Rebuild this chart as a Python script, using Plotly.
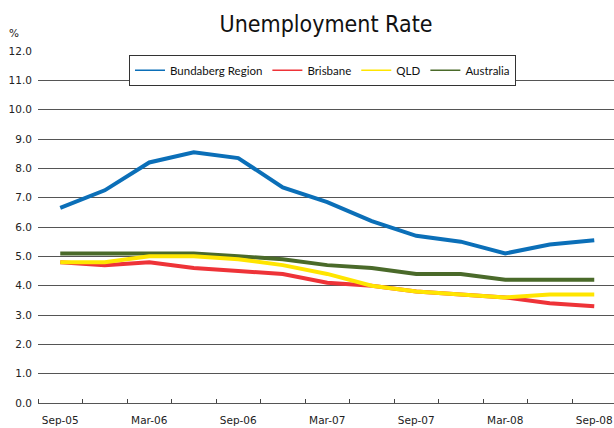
import plotly.graph_objects as go

quarters = ["Sep-05", "Dec-05", "Mar-06", "Jun-06", "Sep-06", "Dec-06", "Mar-07",
            "Jun-07", "Sep-07", "Dec-07", "Mar-08", "Jun-08", "Sep-08"]

bundaberg = [6.65, 7.25, 8.2, 8.55, 8.35, 7.35, 6.85, 6.2, 5.7, 5.5, 5.1, 5.4, 5.55]
brisbane = [4.8, 4.7, 4.8, 4.6, 4.5, 4.4, 4.1, 4.0, 3.8, 3.7, 3.6, 3.4, 3.3]
qld = [4.8, 4.8, 5.0, 5.0, 4.9, 4.7, 4.4, 4.0, 3.8, 3.7, 3.6, 3.7, 3.7]
australia = [5.1, 5.1, 5.1, 5.1, 5.0, 4.9, 4.7, 4.6, 4.4, 4.4, 4.2, 4.2, 4.2]

series = [
    ("Bundaberg Region", bundaberg, "#0B6FB8"),
    ("Brisbane", brisbane, "#EE3338"),
    ("QLD", qld, "#FFE500"),
    ("Australia", australia, "#4A6A2A"),
]

y_ticks = [i for i in range(0, 13)]
x_idx = list(range(len(quarters)))

TITLEFONT = "DejaVu Sans Condensed, Liberation Sans Narrow, sans-serif"
LEGENDFONT = "Lato, Roboto, sans-serif"
TICKFONT = dict(family="DejaVu Sans, Verdana, sans-serif", size=10.5, color="#222222")

fig = go.Figure()

# Plot order: drawn so the Bundaberg line sits on top
for name, vals, color in [series[3], series[1], series[2], series[0]]:
    fig.add_trace(go.Scatter(
        x=x_idx, y=vals, mode="lines", name=name,
        line=dict(color=color, width=4),
        showlegend=False, hoverinfo="skip",
    ))

# Thin legend keys
for name, vals, color in series:
    fig.add_trace(go.Scatter(
        x=[None], y=[None], mode="lines", name=name,
        line=dict(color=color, width=1.6), showlegend=True,
    ))

fig.update_layout(
    width=614, height=428,
    margin=dict(l=38, r=0, t=51, b=25),
    paper_bgcolor="white", plot_bgcolor="white",
    title=dict(text="Unemployment Rate", x=0.5, xref="paper", xanchor="center",
               y=1 - 24 / 428, yanchor="middle",
               font=dict(family=TITLEFONT, size=23, color="#111111")),
    showlegend=True,
    legend=dict(
        orientation="h", x=(129 - 38) / 576, xanchor="left",
        y=(402.7 - 55) / 351.4, yanchor="top",
        bgcolor="white", bordercolor="#333333", borderwidth=1,
        font=dict(family=LEGENDFONT, size=11.5, color="#111111"),
        itemwidth=30, tracegroupgap=0,
    ),
    xaxis=dict(
        range=[-0.5, -0.5 + 576 / 44.5],
        tickmode="array", tickvals=x_idx[::2], ticktext=quarters[::2],
        ticks="", showgrid=False, zeroline=False,
        showline=False,
        tickfont=TICKFONT, ticklabelstandoff=9,
        minor=dict(tick0=-0.5, dtick=1, ticks="inside", ticklen=4,
                   tickcolor="#444444", tickwidth=1, showgrid=False),
    ),
    yaxis=dict(
        range=[0, 12], tickmode="array", tickvals=y_ticks,
        ticktext=[f"{v:.1f}" for v in y_ticks],
        showgrid=True, gridcolor="#555555", gridwidth=1,
        zeroline=True, zerolinecolor="#555555", zerolinewidth=1.2,
        showline=False, ticks="", tickfont=TICKFONT, ticklabelstandoff=5,
    ),
    annotations=[dict(text="%", xref="paper", yref="paper",
                      x=(14 - 38) / 576, y=(402.7 - 33) / 351.4,
                      xanchor="center", yanchor="middle", showarrow=False,
                      font=TICKFONT)],
)

fig.write_html("out.html")
